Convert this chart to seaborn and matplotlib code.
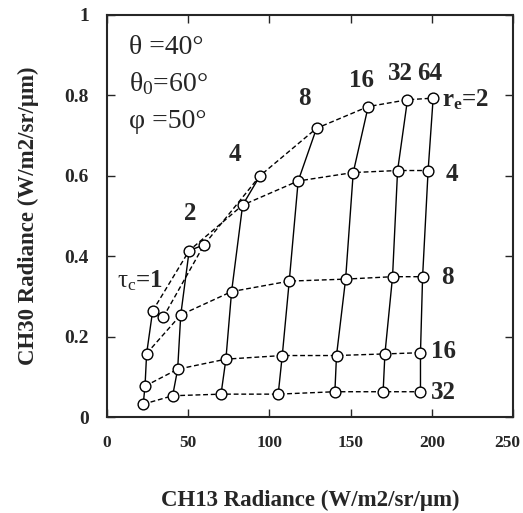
import numpy as np
import pandas as pd
import matplotlib
matplotlib.use("Agg")
import matplotlib.pyplot as plt
import matplotlib.transforms as mtransforms
import seaborn as sns

# optical thickness (solid lines) and effective radius (dashed lines)
tau_c = [1, 2, 4, 8, 16, 32, 64]
r_e = [2, 4, 8, 16, 32]

# CH13 radiance, one row per r_e, one column per tau_c
ch13 = [
    [34.6, 59.7, 94.2, 129.0, 160.8, 185.0, 200.8],
    [28.1, 50.6, 83.5, 117.7, 151.6, 178.9, 197.7],
    [24.4, 45.4, 76.7, 112.2, 146.9, 175.8, 194.3],
    [23.4, 43.5, 73.2, 107.9, 141.3, 171.1, 193.0],
    [22.3, 40.4, 70.2, 105.4, 140.3, 170.0, 193.0],
]
# CH30 radiance
ch30 = [
    [0.248, 0.428, 0.600, 0.718, 0.772, 0.789, 0.793],
    [0.264, 0.414, 0.527, 0.587, 0.608, 0.613, 0.613],
    [0.158, 0.254, 0.312, 0.338, 0.343, 0.349, 0.349],
    [0.077, 0.119, 0.144, 0.153, 0.153, 0.157, 0.160],
    [0.032, 0.053, 0.057, 0.057, 0.063, 0.063, 0.063],
]

rows = []
for i, r in enumerate(r_e):
    for j, t in enumerate(tau_c):
        rows.append({"re": r, "tau": t, "x": ch13[i][j], "y": ch30[i][j]})
df = pd.DataFrame(rows)

sns.set_style("ticks")
plt.rcParams["font.family"] = ["Liberation Serif", "DejaVu Serif"]
plt.rcParams["mathtext.fontset"] = "custom"
plt.rcParams["mathtext.rm"] = "Liberation Serif"
plt.rcParams["mathtext.it"] = "Liberation Serif:italic"
plt.rcParams["mathtext.bf"] = "Liberation Serif:bold"

fig = plt.figure(figsize=(5.23, 5.13), dpi=100)
ax = fig.add_axes([0.2046, 0.187, 0.7764, 0.784])

# constant r_e curves (dashed), ordered by tau
sns.lineplot(data=df.sort_values(["re", "tau"]), x="x", y="y", units="re",
             estimator=None, sort=False, color="black", lw=1.0,
             dashes=False, ax=ax, linestyle=(0, (3.5, 2)))
# constant tau curves (solid), ordered by r_e
sns.lineplot(data=df.sort_values(["tau", "re"], ascending=[True, False]),
             x="x", y="y", units="tau", estimator=None, sort=False,
             color="black", lw=1.0, ax=ax)
sns.scatterplot(data=df, x="x", y="y", marker="o", s=60, facecolor="white",
                edgecolor="black", linewidth=1.0, ax=ax, zorder=5)

ax.set_xlim(0, 250)
ax.set_ylim(0, 1)
ax.set_xticks([0, 50, 100, 150, 200, 250])
ax.set_yticks([0, 0.2, 0.4, 0.6, 0.8, 1])
ax.set_yticklabels(["0", "0.2", "0.4", "0.6", "0.8", "1"])
ax.tick_params(direction="in", length=6, width=1, top=True, right=True,
               pad=13)
ax.tick_params(axis="x", labelsize=12.5)
ax.tick_params(axis="y", labelsize=14)
for lab in ax.get_xticklabels() + ax.get_yticklabels():
    lab.set_fontweight("bold")
# last x label sits at the figure edge, nudge it in a little
last = ax.get_xticklabels()[-1]
last.set_transform(last.get_transform() +
                   mtransforms.ScaledTranslation(-4 / 72, 0, fig.dpi_scale_trans))
for sp in ax.spines.values():
    sp.set_linewidth(1.5)

ax.set_xlabel("CH13 Radiance (W/m2/sr/\u03bcm)", fontsize=16.5,
              fontweight="bold", labelpad=28)
ax.set_ylabel("CH30 Radiance (W/m2/sr/\u03bcm)", fontsize=16.5,
              fontweight="bold", labelpad=18)

# viewing geometry
ax.text(13.5, 0.918, "\u03b8 =40\u00b0", fontsize=20, va="center")
ax.text(13.5, 0.828, r"$\mathrm{\theta_0}$" + "=60\u00b0", fontsize=20,
        va="center")
ax.text(13.5, 0.736, "\u03c6 =50\u00b0", fontsize=20, va="center")

# tau labels
ax.text(20.3, 0.338, r"$\mathrm{\tau_c}$" + "=1", fontsize=18,
        fontweight="bold", ha="center", va="center")
tau_lab_x = [51.1, 78.8, 121.8, 156.7, 180.7, 198.8]
tau_lab_y = [0.507, 0.652, 0.791, 0.838, 0.853, 0.853]
for t, lx, ly in zip(tau_c[1:], tau_lab_x, tau_lab_y):
    ax.text(lx, ly, str(t), fontsize=18, fontweight="bold",
            ha="center", va="center")

# r_e labels
ax.text(206.0, 0.789, r"$\mathbf{r_e}$" + "=2", fontsize=18,
        fontweight="bold", ha="left", va="center")
re_lab_x = [212.3, 209.9, 207.0, 207.0]
re_lab_y = [0.602, 0.348, 0.162, 0.062]
for r, lx, ly in zip(r_e[1:], re_lab_x, re_lab_y):
    ax.text(lx, ly, str(r), fontsize=18, fontweight="bold",
            ha="center", va="center")

fig.savefig("out.png", dpi=100)
